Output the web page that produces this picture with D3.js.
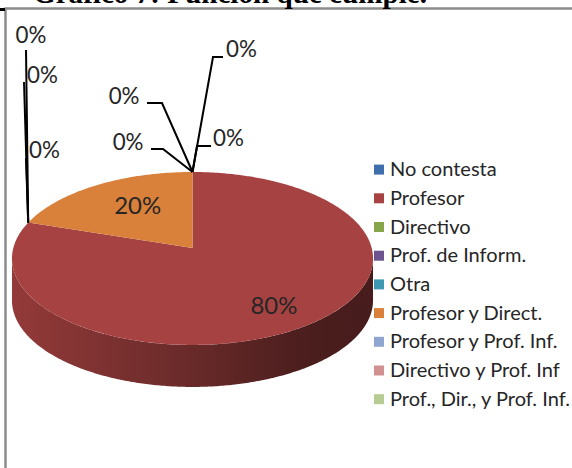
<!DOCTYPE html>
<html>
<head>
<meta charset="utf-8">
<script src="https://cdn.jsdelivr.net/npm/d3@7"></script>
<style>
  body { margin: 0; background: #fff; }
  svg { display: block; }
</style>
</head>
<body>
<svg id="chart" width="572" height="468"></svg>
<script>
// data
const title = 'Gráfico 7: Función que cumple.';
const categories = ['No contesta', 'Profesor', 'Directivo', 'Prof. de Inform.', 'Otra',
  'Profesor y Direct.', 'Profesor y Prof. Inf.', 'Directivo y Prof. Inf', 'Prof., Dir., y Prof. Inf.'];
const values = [0, 80, 0, 0, 0, 20, 0, 0, 0];
const colors = ['#3F6FAD', '#A64241', '#87A54B', '#6D548E', '#3D98B0', '#D9813B', '#8FA7D0', '#D09190', '#B7CC93'];

// layout
const cx = 192.5, cy = 248;        // projected centre of the top face
const rx = 179.2, ry = 85.2;       // radii before perspective
const persp = -0.121;              // perspective factor (far side smaller)
const depth = 42;
const labelFont = "Lato, 'Open Sans', sans-serif";
const textColor = '#262626';

// where the percentage labels of real slices sit (radial fraction + nudge)
const sliceLabelPos = { 1: { f: 0.8, dx: -10, dy: -2 }, 5: { f: 0.57, dx: 2, dy: -5 } };
// leader lines of zero-valued slices, offsets from the slice anchor
const zeroLabelPos = {
  0: { pts: [[20.5, -115], [30.5, -115]], text: [33.5, -115], anchor: 'start' },
  6: { pts: [[4.5, -26], [18.5, -26]], text: [20.5, -26], anchor: 'start' },
  7: { pts: [[-29.5, -23], [-41.5, -23]], text: [-49, -22], anchor: 'end' },
  8: { pts: [[-30.5, -69], [-45.5, -69]], text: [-53, -68], anchor: 'end' },
  2: { pts: [[-2.2, -172.6]], text: [2.8, -179.6], anchor: 'middle' },
  3: { pts: [[-4.2, -140.6]], text: [-1.2, -139.6], anchor: 'start' },
  4: { pts: [[-2.2, -64.6]], text: [0.8, -64.6], anchor: 'start' }
};

const svg = d3.select('#chart');
const defs = svg.append('defs');

function project(a, f = 1) {
  const u = f * Math.sin(a), v = -f * Math.cos(a);
  const w = 1 + persp * v;
  return [cx + rx * u / w, cy + ry * v / w];
}

function arcPoints(a0, a1) {
  const n = Math.max(2, Math.ceil((a1 - a0) / 0.01));
  return d3.range(n + 1).map(i => project(a0 + (a1 - a0) * i / n));
}

// frame + the little corner mark
svg.append('rect')
  .attr('x', 5.5).attr('y', 8.5).attr('width', 700).attr('height', 600)
  .attr('fill', 'none').attr('stroke', '#8c8c8c').attr('stroke-width', 2.5);
svg.append('rect').attr('x', 0).attr('y', 8).attr('width', 5).attr('height', 3).attr('fill', '#000');

// title, cut by the top edge
svg.append('text')
  .attr('x', 33).attr('y', 3)
  .attr('font-family', "'Liberation Serif', 'Times New Roman', serif")
  .attr('font-weight', 'bold')
  .attr('font-size', 29)
  .attr('textLength', 394)
  .attr('lengthAdjust', 'spacingAndGlyphs')
  .attr('fill', '#000')
  .text(title);

const pie = d3.pie().sort(null).value(d => d);
const arcs = pie(values);
const line = d3.line();

// side walls (front half only)
const frontL = Math.acos(persp), frontR = 2 * Math.PI - Math.acos(persp);
const xExt = rx / Math.sqrt(1 - persp * persp);
arcs.forEach((d, i) => {
  const s = Math.max(d.startAngle, frontL), e = Math.min(d.endAngle, frontR);
  if (d.value === 0 || e <= s) return;
  const id = 'side' + i;
  const base = d3.color(colors[i]);
  const g = defs.append('linearGradient').attr('id', id)
    .attr('gradientUnits', 'userSpaceOnUse')
    .attr('x1', cx - xExt).attr('x2', cx + xExt).attr('y1', 0).attr('y2', 0);
  [[0, 0.35], [0.5, 1.3], [0.8, 2.2], [1, 2.4]].forEach(([o, k]) => {
    g.append('stop').attr('offset', o).attr('stop-color', base.darker(k).formatHex());
  });
  const top = arcPoints(s, e);
  const bottom = top.map(p => [p[0], p[1] + depth]).reverse();
  svg.append('path')
    .attr('d', line(top.concat(bottom)) + 'Z')
    .attr('fill', 'url(#' + id + ')');
});

// top faces
arcs.forEach((d, i) => {
  if (d.value === 0) return;
  const pts = [[cx, cy]].concat(arcPoints(d.startAngle, d.endAngle));
  svg.append('path')
    .attr('d', line(pts) + 'Z')
    .attr('fill', colors[i]);
});

const total = d3.sum(values);
const fmt = v => Math.round(v / total * 100) + '%';

// font sizes fitted to the reference widths
function fitSize(str, width, family) {
  const t = svg.append('text').attr('font-family', family).attr('font-size', 20).text(str);
  const w = t.node().getComputedTextLength();
  t.remove();
  return 20 * width / w;
}
const pctSize = fitSize('80%', 47, labelFont);
const legendSize = fitSize('Prof., Dir., y Prof. Inf.', 180, labelFont);

// leader lines for zero slices
arcs.forEach((d, i) => {
  const lay = zeroLabelPos[i];
  if (d.value !== 0 || !lay) return;
  const [ax, ay] = project(d.startAngle);
  const pts = [[ax, ay]].concat(lay.pts.map(p => [ax + p[0], ay + p[1]]));
  svg.append('path')
    .attr('d', line(pts))
    .attr('fill', 'none')
    .attr('stroke', '#000')
    .attr('stroke-width', 2);
  svg.append('text')
    .attr('x', ax + lay.text[0]).attr('y', ay + lay.text[1])
    .attr('text-anchor', lay.anchor)
    .attr('font-family', labelFont)
    .attr('font-size', pctSize * 31 / 47 * 1.729 / 1.222)
    .attr('fill', textColor)
    .text(fmt(d.value));
});

// labels on real slices
arcs.forEach((d, i) => {
  const lay = sliceLabelPos[i];
  if (d.value === 0 || !lay) return;
  const mid = (d.startAngle + d.endAngle) / 2;
  const [x, y] = project(mid, lay.f);
  svg.append('text')
    .attr('x', x + lay.dx).attr('y', y + lay.dy)
    .attr('dy', '0.36em')
    .attr('text-anchor', 'middle')
    .attr('font-family', labelFont)
    .attr('font-size', pctSize)
    .attr('fill', textColor)
    .text(fmt(d.value));
});

// legend
const ly = d3.scalePoint().domain(categories).range([169.6, 399.2]);
const legend = svg.append('g');
categories.forEach((c, i) => {
  legend.append('rect')
    .attr('x', 374).attr('y', ly(c) - 5)
    .attr('width', 10).attr('height', 10)
    .attr('fill', colors[i]);
  legend.append('text')
    .attr('x', 390).attr('y', ly(c) + 6.5)
    .attr('font-family', labelFont)
    .attr('font-size', legendSize)
    .attr('fill', textColor)
    .text(c);
});
</script>
</body>
</html>
